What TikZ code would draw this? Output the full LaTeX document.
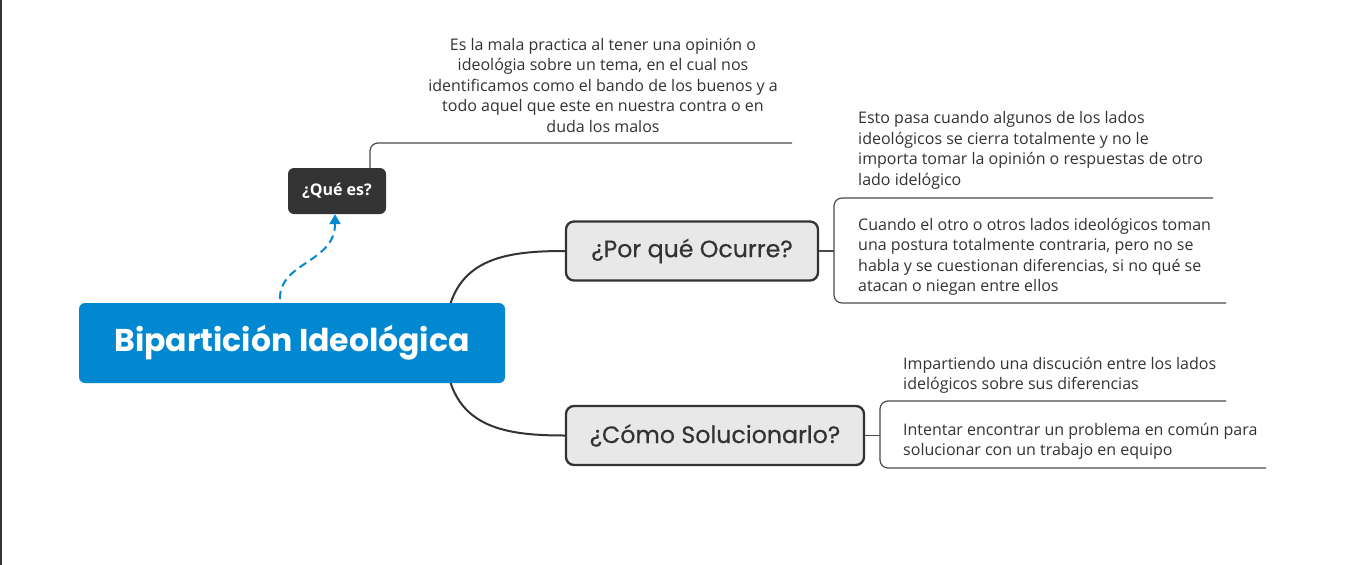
\documentclass[tikz,border=0pt]{standalone}
\usepackage{fontspec}
\setmainfont{Open Sans}
\newfontfamily\titlefont{Poppins}
\newfontfamily\titlemed{Poppins}[FakeBold=0.5]
\newfontfamily\quefont{Open Sans}
\usetikzlibrary{arrows.meta,backgrounds,calc}
\definecolor{mapblue}{HTML}{0288D1}
\definecolor{mapdark}{HTML}{333333}
\definecolor{mapgrey}{HTML}{E8E8E8}
\definecolor{linegrey}{HTML}{4A4A4A}
\definecolor{textgrey}{HTML}{333333}
\tikzset{
  centralbox/.style={fill=mapblue, rounded corners=6pt, minimum width=426pt, minimum height=80pt, inner sep=0pt,
    text=white, font=\titlefont\bfseries\fontsize{31.5}{36}\selectfont},
  darkbox/.style={fill=mapdark, rounded corners=6pt, minimum width=98pt, minimum height=46pt, inner sep=0pt,
    text=white, font=\quefont\bfseries\fontsize{16}{19}\selectfont},
  mainbox/.style={fill=mapgrey, draw=mapdark, line width=2.3pt, rounded corners=8pt, minimum height=59pt, inner sep=0pt,
    text=textgrey, font=\titlemed\fontsize{23.7}{28}\selectfont},
  bodytext/.style={text=textgrey, inner sep=0pt, font=\fontsize{16}{20.5}\selectfont},
  branch/.style={draw=mapdark, line width=2pt},
  subline/.style={draw=linegrey, line width=1.2pt, rounded corners=8pt},
  dashedarrow/.style={draw=mapblue, line width=2pt, dash pattern=on 8pt off 5pt, -{Triangle[width=11pt,length=10pt]}}
}
\begin{document}
\begin{tikzpicture}[x=1pt,y=-1pt]
\useasboundingbox (0,0) rectangle (1350,565);

% nodes
\node[centralbox] (central) at (292,343) {Bipartición Ideológica};
\node[darkbox] (que) at (337,191) {¿Qué es?};
\node[mainbox, minimum width=252pt] (porque) at (692,251) {¿Por qué Ocurre?};
\node[mainbox, minimum width=298pt] (como) at (715,435.5) {¿Cómo Solucionarlo?};

\node[bodytext, align=center] (quetext) at (603,85) {Es la mala practica al tener una opinión o\\ideológia sobre un tema, en el cual nos\\identificamos como el bando de los buenos y a\\todo aquel que este en nuestra contra o en\\duda los malos};
\node[bodytext, align=left, anchor=west] (pq1) at (858,150.5) {Esto pasa cuando algunos de los lados\\ideológicos se cierra totalmente y no le\\importa tomar la opinión o respuestas de otro\\lado idelógico};
\node[bodytext, align=left, anchor=west] (pq2) at (858,257) {Cuando el otro o otros lados ideológicos toman\\una postura totalmente contraria, pero no se\\habla y se cuestionan diferencias, si no qué se\\atacan o niegan entre ellos};
\node[bodytext, align=left, anchor=west] (cs1) at (903,375.5) {Impartiendo una discución entre los lados\\idelógicos sobre sus diferencias};
\node[bodytext, align=left, anchor=west] (cs2) at (903,441.5) {Intentar encontrar un problema en común para\\solucionar con un trabajo en equipo};

% coordinates for connectors
\coordinate (cstart) at ($(central.center)+(153,0)$);
\coordinate (quetop) at (que.north -| 370,0);
\coordinate (queend) at (792,143);
\coordinate (pqa) at (834,251);
\coordinate (pqtop) at (1213,198);
\coordinate (pqbot) at (1226,303);
\coordinate (csa) at (880,435.5);
\coordinate (cstop) at (1226,401);
\coordinate (csbot) at (1266,468);

\begin{pgfonlayer}{background}
\fill[white] (0,0) rectangle (1350,565);
\draw[mapdark, line width=1.5pt] (0.75,0) -- (0.75,565);
\draw[branch] (cstart) .. controls +(0,-83) and +(-66,0) .. (porque.west);
\draw[branch] (cstart) .. controls +(0,83) and +(-66,0) .. (como.west);
\end{pgfonlayer}

\draw[dashedarrow] (280,299) .. controls (279,262) and (335,263) .. (que.south -| 335,0);
\draw[subline] (quetop) -- (370,143) -- (queend);

\draw[subline] (porque.east) -- (pqa);
\draw[subline] (pqtop) -- (834,198) -- (834,303) -- (pqbot);
\draw[subline] (como.east) -- (csa);
\draw[subline] (cstop) -- (880,401) -- (880,468) -- (csbot);
\end{tikzpicture}
\end{document}
